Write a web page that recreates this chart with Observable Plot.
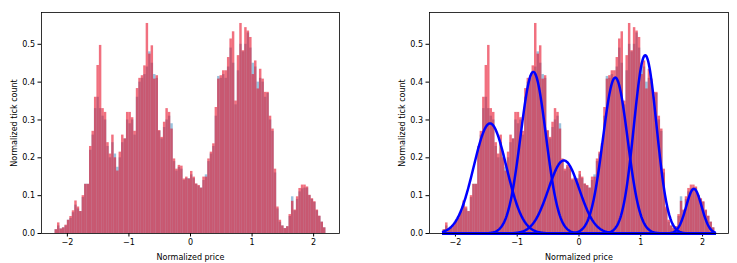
<!DOCTYPE html>
<html>
<head>
<meta charset="utf-8">
<script src="https://cdn.jsdelivr.net/npm/d3@7"></script>
<script src="https://cdn.jsdelivr.net/npm/@observablehq/plot@0.6"></script>
<style>
  html, body { margin: 0; padding: 0; background: white; }
  #row { display: flex; width: 737px; height: 263px; }
</style>
</head>
<body>
<div id="row"></div>
<script>
// Histogram bins: 110 bins of width 0.04 starting at -2.2
const binStart = -2.2;
const binWidth = 0.04;

// Red histogram heights (normalized tick count)
const redValues = [
  0.01, 0.028, 0.012, 0.015, 0.022, 0.035, 0.045, 0.06, 0.086, 0.07,
  0.058, 0.1, 0.13, 0.13, 0.23, 0.27, 0.36, 0.444, 0.497, 0.33,
  0.32, 0.24, 0.21, 0.26, 0.2, 0.165, 0.215, 0.26, 0.25, 0.32,
  0.32, 0.306, 0.27, 0.383, 0.41, 0.417, 0.443, 0.555, 0.474, 0.496,
  0.408, 0.417, 0.272, 0.254, 0.294, 0.33, 0.32, 0.276, 0.197, 0.17,
  0.18, 0.178, 0.144, 0.149, 0.144, 0.164, 0.149, 0.131, 0.127, 0.12,
  0.149, 0.149, 0.197, 0.215, 0.237, 0.333, 0.408, 0.417, 0.43, 0.43,
  0.465, 0.514, 0.533, 0.35, 0.47, 0.555, 0.483, 0.544, 0.535, 0.518,
  0.42, 0.456, 0.382, 0.434, 0.408, 0.373, 0.373, 0.31, 0.276, 0.17,
  0.07, 0.035, 0.02, 0.013, 0.018, 0.05, 0.085, 0.062, 0.097, 0.119,
  0.128, 0.128, 0.123, 0.101, 0.092, 0.084, 0.062, 0.046, 0.03, 0.015
];

// Blue histogram heights
const blueValues = [
  0.01, 0.02, 0.012, 0.015, 0.02, 0.035, 0.04, 0.055, 0.075, 0.065,
  0.058, 0.095, 0.13, 0.13, 0.22, 0.26, 0.33, 0.36, 0.33, 0.31,
  0.3, 0.23, 0.2, 0.24, 0.21, 0.175, 0.2, 0.24, 0.25, 0.3,
  0.29, 0.3, 0.26, 0.36, 0.4, 0.41, 0.42, 0.44, 0.48, 0.45,
  0.42, 0.41, 0.27, 0.25, 0.28, 0.3, 0.31, 0.29, 0.19, 0.165,
  0.175, 0.17, 0.14, 0.145, 0.145, 0.155, 0.145, 0.13, 0.125, 0.12,
  0.14, 0.155, 0.19, 0.21, 0.23, 0.31, 0.415, 0.41, 0.42, 0.41,
  0.44, 0.49, 0.45, 0.34, 0.43, 0.5, 0.48, 0.5, 0.53, 0.49,
  0.45, 0.44, 0.4, 0.41, 0.4, 0.36, 0.37, 0.3, 0.27, 0.16,
  0.065, 0.03, 0.02, 0.013, 0.018, 0.045, 0.097, 0.06, 0.09, 0.11,
  0.118, 0.12, 0.12, 0.1, 0.09, 0.082, 0.06, 0.045, 0.03, 0.015
];

// Gaussian components fitted in the right panel
const gaussMeans  = [-1.44, -0.74, -0.245, 0.587, 1.072, 1.86];
const gaussSigmas = [0.265, 0.205, 0.25, 0.2, 0.183, 0.125];
const gaussAmps   = [0.291, 0.427, 0.193, 0.412, 0.471, 0.118];
const curveRange  = [-2.2, 2.2];

const xTicks = [-2, -1, 0, 1, 2];
const yTicks = [0, 0.1, 0.2, 0.3, 0.4, 0.5];

const bins = redValues.map((r, i) => ({
  x1: binStart + i * binWidth,
  x2: binStart + (i + 1) * binWidth,
  red: r,
  blue: blueValues[i]
}));

const curves = [];
gaussMeans.forEach((m, k) => {
  const s = gaussSigmas[k], a = gaussAmps[k];
  for (const x of d3.range(curveRange[0], curveRange[1] + 1e-9, 0.01)) {
    curves.push({k, x, y: a * Math.exp(-((x - m) ** 2) / (2 * s * s))});
  }
});

function panel(withCurves, w, ml, mr) {
  const marks = [
    Plot.rectY(bins, {x1: "x1", x2: "x2", y: "blue", fill: "#1f77b4", fillOpacity: 0.45}),
    Plot.rectY(bins, {x1: "x1", x2: "x2", y: "red", fill: "#e8102a", fillOpacity: 0.6}),
  ];
  if (withCurves) {
    marks.push(Plot.line(curves, {x: "x", y: "y", z: "k", stroke: "#0000ff", strokeWidth: 2.5}));
  }
  marks.push(Plot.frame({stroke: "#000", strokeWidth: 0.8}));
  return Plot.plot({
    width: w, height: 263,
    marginLeft: ml, marginRight: mr, marginTop: 12, marginBottom: 30,
    style: {fontFamily: "DejaVu Sans", fontSize: "8px", background: "white", color: "#000"},
    x: {domain: [-2.42, 2.42], ticks: xTicks, tickFormat: d3.format("d"), tickSize: 3.5, tickPadding: 2,
        label: "Normalized price", labelAnchor: "center", labelArrow: "none", labelOffset: 26},
    y: {domain: [0, 0.584], ticks: yTicks, tickFormat: d3.format(".1f"), tickSize: 3.5, tickPadding: 3,
        label: "Normalized tick count", labelAnchor: "center", labelArrow: "none", labelOffset: 30},
    marks
  });
}

const row = document.getElementById("row");
row.appendChild(panel(false, 368, 41, 29));
row.appendChild(panel(true, 369, 61, 9));
</script>
</body>
</html>
